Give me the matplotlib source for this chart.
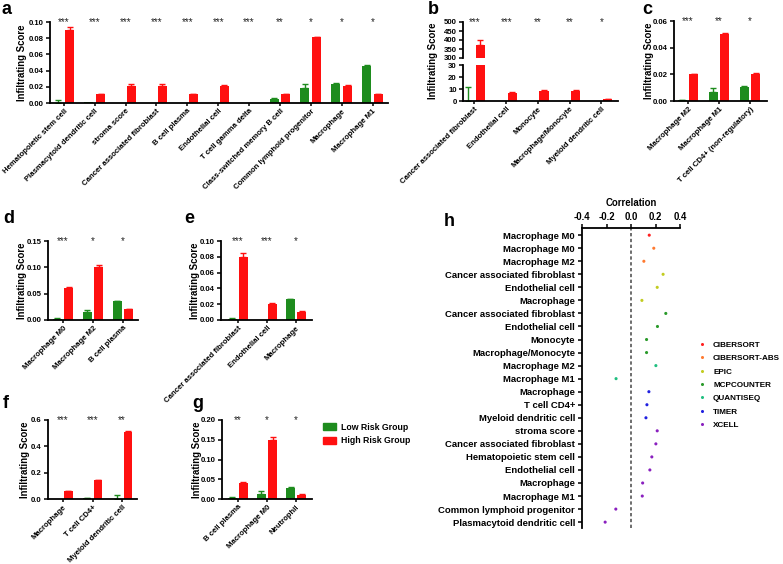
import matplotlib
matplotlib.use("Agg")
import matplotlib.pyplot as plt
from matplotlib.patches import Patch
from matplotlib.lines import Line2D
import numpy as np

plt.rcParams["font.family"] = ["Liberation Sans", "DejaVu Sans"]
plt.rcParams["font.weight"] = "bold"
plt.rcParams["axes.labelweight"] = "bold"
plt.rcParams["axes.unicode_minus"] = False

GREEN = "#1E8C1E"
RED = "#FF1010"

# --- bar panel data (Low vs High risk group) ---
a_cats = ["Hematopoietic stem cell", "Plasmacytoid dendritic cell", "stroma score",
          "Cancer associated fibroblast", "B cell plasma", "Endothelial cell",
          "T cell gamma delta", "Class-switched memory B cell",
          "Common lymphoid progenitor", "Macrophage", "Macrophage M1"]
a_low = [0.0005, 0.0008, 0.0004, 0.0004, 0.0004, 0.0005, 0.0006, 0.005, 0.018, 0.024, 0.046]
a_low_err = [0.003, 0, 0, 0, 0, 0, 0, 0.001, 0.005, 0.0005, 0.0005]
a_high = [0.090, 0.011, 0.021, 0.021, 0.011, 0.021, 0.0, 0.011, 0.081, 0.021, 0.011]
a_high_err = [0.004, 0.0005, 0.002, 0.002, 0.0005, 0.001, 0, 0.0005, 0.001, 0.0007, 0.0007]
a_stars = ["***", "***", "***", "***", "***", "***", "***", "**", "*", "*", "*"]

b_cats = ["Cancer associated fibroblast", "Endothelial cell", "Monocyte",
          "Macrophage/Monocyte", "Myeloid dendritic cell"]
b_low = [0.0, 0.3, 0.3, 0.3, 0.0]
b_low_err = [12, 0, 0, 0, 0]
b_high = [375, 7, 8.5, 8.5, 1.8]
b_high_err = [25, 0.3, 0.4, 0.4, 0.2]
b_stars = ["***", "***", "**", "**", "*"]

c_cats = ["Macrophage M2", "Macrophage M1", "T cell CD4+ (non-regulatory)"]
c_low = [0.0008, 0.007, 0.0105]
c_low_err = [0.0003, 0.003, 0.0007]
c_high = [0.020, 0.050, 0.020]
c_high_err = [0.0006, 0.0012, 0.001]
c_stars = ["***", "**", "*"]

d_cats = ["Macrophage M0", "Macrophage M2", "B cell plasma"]
d_low = [0.002, 0.015, 0.036]
d_low_err = [0.001, 0.004, 0.001]
d_high = [0.060, 0.100, 0.020]
d_high_err = [0.003, 0.004, 0.001]
d_stars = ["***", "*", "*"]

e_cats = ["Cancer associated fibroblast", "Endothelial cell", "Macrophage"]
e_low = [0.001, 0.0004, 0.026]
e_low_err = [0.0012, 0, 0.0005]
e_high = [0.080, 0.020, 0.010]
e_high_err = [0.005, 0.001, 0.001]
e_stars = ["***", "***", "*"]

f_cats = ["Macrophage", "T cell CD4+", "Myeloid dendritic cell"]
f_low = [0.002, 0.004, 0.003]
f_low_err = [0, 0.004, 0.028]
f_high = [0.062, 0.143, 0.510]
f_high_err = [0.002, 0.003, 0.006]
f_stars = ["***", "***", "**"]

g_cats = ["B cell plasma", "Macrophage M0", "Neutrophil"]
g_low = [0.002, 0.013, 0.029]
g_low_err = [0.002, 0.006, 0.0005]
g_high = [0.040, 0.150, 0.011]
g_high_err = [0.002, 0.006, 0.001]
g_stars = ["**", "*", "*"]

# --- panel h: correlation dot plot ---
h_cats = ["Macrophage M0", "Macrophage M0", "Macrophage M2", "Cancer associated fibroblast",
          "Endothelial cell", "Macrophage", "Cancer associated fibroblast", "Endothelial cell",
          "Monocyte", "Macrophage/Monocyte", "Macrophage M2", "Macrophage M1", "Macrophage",
          "T cell CD4+", "Myeloid dendritic cell", "stroma score", "Cancer associated fibroblast",
          "Hematopoietic stem cell", "Endothelial cell", "Macrophage", "Macrophage M1",
          "Common lymphoid progenitor", "Plasmacytoid dendritic cell"]
h_corr = [0.149, 0.186, 0.105, 0.262, 0.214, 0.089, 0.284, 0.216, 0.127, 0.127, 0.203,
          -0.122, 0.146, 0.130, 0.122, 0.214, 0.203, 0.170, 0.154, 0.095, 0.092, -0.124, -0.211]
h_method = ["CIBERSORT", "CIBERSORT-ABS", "CIBERSORT-ABS", "EPIC", "EPIC", "EPIC",
            "MCPCOUNTER", "MCPCOUNTER", "MCPCOUNTER", "MCPCOUNTER", "QUANTISEQ", "QUANTISEQ",
            "TIMER", "TIMER", "TIMER", "XCELL", "XCELL", "XCELL", "XCELL", "XCELL", "XCELL",
            "XCELL", "XCELL"]
methods = ["CIBERSORT", "CIBERSORT-ABS", "EPIC", "MCPCOUNTER", "QUANTISEQ", "TIMER", "XCELL"]
method_colors = ["#FF2020", "#FF7A30", "#C2CC20", "#2A9A2A", "#20BF80", "#2020E0", "#8A20BF"]

W, H = 783, 564
fig = plt.figure(figsize=(W / 100, H / 100), dpi=100)


def add_ax(x0, y0, x1, y1):
    # pixel box -> figure fraction
    return fig.add_axes([x0 / W, 1 - y1 / H, (x1 - x0) / W, (y1 - y0) / H])


def style(ax):
    for s in ["top", "right"]:
        ax.spines[s].set_visible(False)
    for s in ["left", "bottom"]:
        ax.spines[s].set_linewidth(1.3)
    ax.tick_params(axis="y", length=3, width=1.1, labelsize=5.6, pad=1.5)
    ax.tick_params(axis="x", length=2.5, width=1.1, labelsize=5.6, pad=0.8)


def draw_bars(ax, low, low_err, high, high_err, w=0.29, off=0.19):
    x = np.arange(len(low))
    ax.bar(x - off, low, w, color=GREEN, zorder=2)
    ax.bar(x + off, high, w, color=RED, zorder=2)
    for xi, v, e in zip(x, low, low_err):
        if e > 0:
            ax.errorbar(xi - off, v, yerr=[[0], [e]], color=GREEN, lw=1, capsize=2, capthick=1)
    for xi, v, e in zip(x, high, high_err):
        if e > 0:
            ax.errorbar(xi + off, v, yerr=[[0], [e]], color=RED, lw=1, capsize=2, capthick=1)


def put_stars(ax, stars, y):
    for i, s in enumerate(stars):
        ax.text(i, y, s, ha="center", va="center", fontsize=7, color="#222222",
                fontweight="normal", clip_on=False)


def set_cats(ax, cats):
    ax.set_xticks(np.arange(len(cats)))
    ax.set_xticklabels(cats, rotation=45, ha="right", rotation_mode="anchor")


def ylabel_at(ax, xpix, ypix=None):
    # xpix is the right edge of the rotated label
    bb = ax.get_position()
    fx = (xpix - bb.x0 * W) / (bb.width * W)
    fy = 0.5 if ypix is None else ((1 - ypix / H) - bb.y0) / bb.height
    ax.set_ylabel("Infiltrating Score", fontsize=6.9)
    ax.yaxis.set_label_coords(fx, fy)


def bar_panel(box, cats, low, low_err, high, high_err, stars, yticks, fmt, xlim, ylab_x):
    ax = add_ax(*box)
    style(ax)
    draw_bars(ax, low, low_err, high, high_err)
    ax.set_xlim(*xlim)
    ax.set_ylim(yticks[0], yticks[-1])
    ax.set_yticks(yticks)
    ax.set_yticklabels([fmt.format(t) for t in yticks])
    set_cats(ax, cats)
    put_stars(ax, stars, yticks[-1])
    ylabel_at(ax, ylab_x)
    return ax


# panel a
bar_panel((50, 22, 388, 103), a_cats, a_low, a_low_err, a_high, a_high_err, a_stars,
          [0, 0.02, 0.04, 0.06, 0.08, 0.10], "{:.2f}", (-0.45, 10.5), 27.5)

# panel b with broken y axis
b_lim = (-0.36, 4.52)
ax_bu = add_ax(463, 22, 618, 58)
ax_bl = add_ax(463, 65, 618, 101)
for ax in (ax_bu, ax_bl):
    style(ax)
    draw_bars(ax, b_low, b_low_err, b_high, b_high_err)
    ax.set_xlim(*b_lim)
ax_bu.spines["bottom"].set_visible(False)
ax_bu.set_xticks([])
ax_bu.set_ylim(300, 500)
ax_bu.set_yticks([300, 350, 400, 450, 500])
ax_bl.set_ylim(0, 30)
ax_bl.set_yticks([0, 10, 20, 30])
set_cats(ax_bl, b_cats)
put_stars(ax_bu, b_stars, 500)
ylabel_at(ax_bl, 438, 61)

# panel c
bar_panel((674, 21, 767, 101), c_cats, c_low, c_low_err, c_high, c_high_err, c_stars,
          [0, 0.02, 0.04, 0.06], "{:.2f}", (-0.45, 2.55), 654)

# panel d
bar_panel((48, 241, 138, 320), d_cats, d_low, d_low_err, d_high, d_high_err, d_stars,
          [0, 0.05, 0.10, 0.15], "{:.2f}", (-0.5, 2.5), 27)

# panel e
bar_panel((221, 241, 312, 320), e_cats, e_low, e_low_err, e_high, e_high_err, e_stars,
          [0, 0.02, 0.04, 0.06, 0.08, 0.10], "{:.2f}", (-0.58, 2.55), 200)

# panel f
bar_panel((48, 420, 137, 499), f_cats, f_low, f_low_err, f_high, f_high_err, f_stars,
          [0, 0.2, 0.4, 0.6], "{:.1f}", (-0.5, 2.5), 30)

# panel g
bar_panel((222, 420, 312, 499), g_cats, g_low, g_low_err, g_high, g_high_err, g_stars,
          [0, 0.05, 0.10, 0.15, 0.20], "{:.2f}", (-0.55, 2.55), 202)

# group legend
fig.legend(handles=[Patch(color=GREEN), Patch(color=RED)],
           labels=["Low Risk Group", "High Risk Group"],
           loc="upper left", bbox_to_anchor=(319 / W, 1 - 419 / H), frameon=False,
           fontsize=6.3, handlelength=1.5, handleheight=0.85, handletextpad=0.6,
           labelspacing=0.55, borderaxespad=0)

# panel h
ax_h = add_ax(582, 228, 680, 528)
rows = np.arange(len(h_cats))
col_map = dict(zip(methods, method_colors))
ax_h.scatter(h_corr, rows, s=5, c=[col_map[m] for m in h_method], zorder=3, linewidths=0)
ax_h.axvline(0, color="#555555", lw=1.2, ls=(0, (2, 1.5)), zorder=1)
ax_h.set_xlim(-0.4, 0.4)
ax_h.set_ylim(len(h_cats) - 0.55, -0.55)
ax_h.xaxis.tick_top()
ax_h.xaxis.set_label_position("top")
ax_h.set_xticks([-0.4, -0.2, 0.0, 0.2, 0.4])
ax_h.set_xticklabels(["-0.4", "-0.2", "0.0", "0.2", "0.4"])
ax_h.set_xlabel("Correlation", fontsize=6.9, labelpad=4)
ax_h.set_yticks(rows)
ax_h.set_yticklabels(h_cats)
for s in ["bottom", "right"]:
    ax_h.spines[s].set_visible(False)
for s in ["top", "left"]:
    ax_h.spines[s].set_linewidth(1.3)
ax_h.tick_params(axis="x", length=3, width=1.1, labelsize=6.9, pad=1.5)
ax_h.tick_params(axis="y", length=3, width=1.1, labelsize=6.8, pad=2)

fig.legend(handles=[Line2D([], [], ls="", marker="o", ms=2.2, color=c, mec="none")
                    for c in method_colors],
           labels=methods, loc="upper left", bbox_to_anchor=(695 / W, 1 - 338 / H),
           frameon=False, fontsize=5.9, handlelength=1.0, handletextpad=0.8,
           labelspacing=0.68, borderaxespad=0)

# panel letters
for letter, px, py in [("a", 2, 1), ("b", 428, 1), ("c", 642, 1), ("d", 3, 210),
                       ("e", 184, 210), ("f", 3, 395), ("g", 192, 395), ("h", 444, 213)]:
    fig.text(px / W, 1 - py / H, letter, fontsize=13, fontweight="bold", va="top", ha="left")

fig.savefig("out.png", dpi=100)
